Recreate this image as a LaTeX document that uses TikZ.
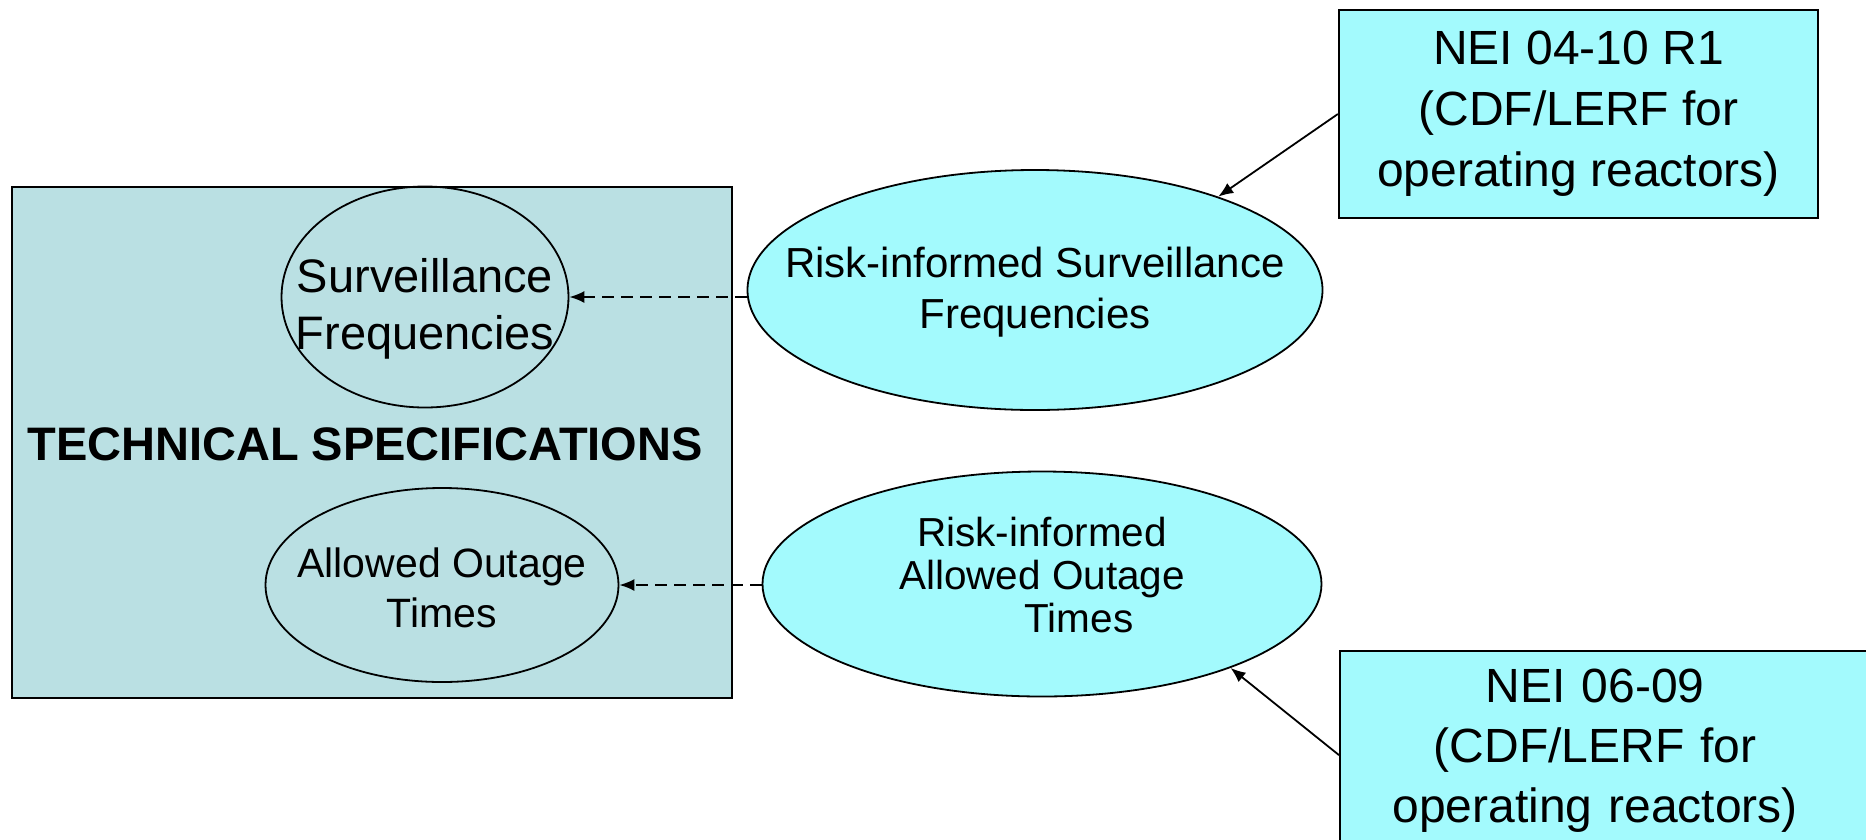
\documentclass[tikz,border=0pt]{standalone}
\usepackage{fontspec}
\setmainfont{Liberation Sans}
\usetikzlibrary{shapes.geometric, arrows.meta, positioning}
\definecolor{specgray}{RGB}{186,224,227}
\definecolor{riskcyan}{RGB}{163,250,253}
\newcommand{\setfs}[2]{\fontsize{#1}{#2}\selectfont}

\begin{document}
\begin{tikzpicture}[x=1pt, y=1pt,
  oval/.style={ellipse, draw, line width=1.8pt, inner sep=0pt},
  riskoval/.style={oval, fill=riskcyan},
  nei/.style={draw, line width=2.2pt, fill=riskcyan, inner sep=0pt},
  dasharrow/.style={dash pattern=on 12pt off 7pt, line width=1.8pt, -{Latex[length=15pt,width=12pt]}},
  linkarrow/.style={line width=1.8pt, -{Latex[length=15pt,width=12pt]}}]
  \useasboundingbox (0,0) rectangle (1866,-839);
  \clip (0,0) rectangle (1866,-839);

  \node[draw, line width=2.2pt, fill=specgray, minimum width=720pt, minimum height=511pt, anchor=north west] (specbox) at (11,-186) {};
  \node[font=\bfseries\setfs{47}{56}] (spectitle) at (365,-444) {TECHNICAL SPECIFICATIONS};
  \node[oval, minimum width=287pt, minimum height=221pt,
    label={[align=center, font=\setfs{47}{57}, yshift=-12pt]center:Surveillance\\Frequencies}] (sf) at (425,-297) {};
  \node[oval, minimum width=353pt, minimum height=194pt,
    label={[align=center, font=\setfs{41}{50}, yshift=-3pt]center:Allowed Outage\\Times}] (sao) at (442,-585) {};

  \node[riskoval, minimum width=575pt, minimum height=240pt,
    label={[align=center, font=\setfs{42}{51}, yshift=-2pt]center:Risk-informed Surveillance\\Frequencies}] (rsf) at (1035,-290) {};
  \node[riskoval, minimum width=559pt, minimum height=225pt,
    label={[align=center, font=\setfs{40.5}{43}, yshift=9pt]center:Risk-informed\\Allowed Outage\\\hspace*{74pt}Times}] (rao) at (1042,-584) {};

  \node[nei, minimum width=479pt, minimum height=208pt, align=center, font=\setfs{48}{61}] (nei1) at (1578.5,-114) {NEI 04-10 R1\\(CDF/LERF for\\operating reactors)};
  \node[nei, minimum width=600pt, minimum height=208pt, anchor=north west] (nei2) at (1339,-650) {};
  \node[right=0pt of nei2.west, text width=512pt, align=center, inner sep=0pt, font=\setfs{48}{60}, yshift=4pt] (nei2text) {NEI 06-09\\(CDF/LERF for\\operating reactors)};

  \draw[dasharrow] (rsf.west |- sf.east) -- (sf.east);
  \draw[dasharrow] (rao.west |- sao.east) -- (sao.east);
  \draw[linkarrow] (nei1.west) -- (rsf.27);
  \draw[linkarrow] (nei2.west) -- (rao.-24);
\end{tikzpicture}
\end{document}
